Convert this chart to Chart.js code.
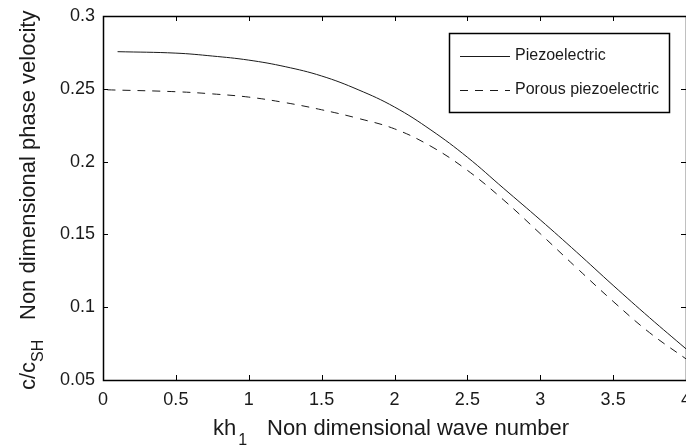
<!DOCTYPE html>
<html>
<head>
<meta charset="utf-8">
<style>
  html, body { margin: 0; padding: 0; background: #fff; }
  #wrap { width: 686px; height: 448px; }
</style>
<script src="https://cdn.jsdelivr.net/npm/chart.js@4.4.1/dist/chart.umd.min.js"></script>
</head>
<body>
<div id="wrap"><canvas id="chart" width="686" height="448"></canvas></div>
<script>
// data
const seriesNames = ['Piezoelectric', 'Porous piezoelectric'];
const piezoX = [0.1, 0.5, 0.75, 1.0, 1.25, 1.5, 1.75, 2.0, 2.25, 2.5, 2.75, 3.0, 3.25, 3.5, 3.75, 4.0];
const piezoY = [0.2755, 0.2745, 0.2725, 0.2697, 0.2652, 0.2588, 0.2494, 0.2375, 0.2217, 0.2030, 0.1815, 0.1600, 0.1378, 0.1150, 0.0928, 0.0714];
const porousX = [0.03, 0.5, 0.75, 1.0, 1.25, 1.5, 1.75, 2.0, 2.25, 2.5, 2.75, 3.0, 3.25, 3.5, 3.75, 4.0];
const porousY = [0.2493, 0.2480, 0.2465, 0.2443, 0.2405, 0.2356, 0.2297, 0.2225, 0.2105, 0.1940, 0.1735, 0.1505, 0.1270, 0.1040, 0.0825, 0.0645];
const xTicks = [0, 0.5, 1, 1.5, 2, 2.5, 3, 3.5, 4];
const yTicks = [0.05, 0.1, 0.15, 0.2, 0.25, 0.3];

const FONT = '"Liberation Sans", Arial, Helvetica, sans-serif';
const INK = '#1a1a1a';

const toPoints = (xs, ys) => xs.map((x, i) => ({ x: x, y: ys[i] }));

// frame + inward ticks on all four sides
const framePlugin = {
    id: 'frame',
    afterDatasetsDraw(chart) {
        const { ctx, chartArea: a, scales } = chart;
        const len = 5;
        ctx.save();
        ctx.strokeStyle = '#000';
        ctx.lineWidth = 1;
        ctx.beginPath();
        scales.x.ticks.forEach(t => {
            const px = Math.round(scales.x.getPixelForValue(t.value)) + 0.5;
            ctx.moveTo(px, a.bottom); ctx.lineTo(px, a.bottom - len);
            ctx.moveTo(px, a.top); ctx.lineTo(px, a.top + len);
        });
        scales.y.ticks.forEach(t => {
            const py = Math.round(scales.y.getPixelForValue(t.value)) + 0.5;
            ctx.moveTo(a.left, py); ctx.lineTo(a.left + len, py);
            ctx.moveTo(a.right, py); ctx.lineTo(a.right - len, py);
        });
        ctx.stroke();
        ctx.lineWidth = 1.5;
        ctx.strokeRect(a.left + 0.5, a.top + 0.5, a.right - a.left, a.bottom - a.top);
        ctx.restore();
    }
};

// boxed legend in the upper right corner of the plot
const boxLegend = {
    id: 'boxLegend',
    afterDraw(chart) {
        const { ctx, chartArea: a } = chart;
        const w = 220, h = 79;
        const x0 = a.right - 17 - w, y0 = a.top + 17;
        ctx.save();
        ctx.fillStyle = '#fff';
        ctx.fillRect(x0, y0, w, h);
        ctx.strokeStyle = '#000';
        ctx.lineWidth = 1.5;
        ctx.strokeRect(x0 + 0.5, y0 + 0.5, w, h);
        ctx.font = '16px ' + FONT;
        ctx.textBaseline = 'middle';
        chart.data.datasets.forEach((ds, i) => {
            const y = y0 + 23 + i * 34;
            ctx.strokeStyle = ds.borderColor;
            ctx.lineWidth = 1;
            ctx.setLineDash(ds.borderDash || []);
            ctx.beginPath();
            ctx.moveTo(x0 + 11, y + 0.5);
            ctx.lineTo(x0 + 61, y + 0.5);
            ctx.stroke();
            ctx.setLineDash([]);
            ctx.fillStyle = INK;
            ctx.fillText(ds.label, x0 + 66, y);
        });
        ctx.restore();
    }
};

// axis titles with subscripts
const titles = {
    id: 'titles',
    afterDraw(chart) {
        const { ctx } = chart;
        ctx.save();
        ctx.fillStyle = INK;
        ctx.textBaseline = 'alphabetic';

        // x title
        ctx.font = '22px ' + FONT;
        ctx.fillText('kh', 213, 435);
        const wk = ctx.measureText('kh').width;
        ctx.font = '16px ' + FONT;
        ctx.fillText('1', 213 + wk + 2, 445);
        ctx.font = '22px ' + FONT;
        ctx.fillText('Non dimensional wave number', 267, 435);

        // y title, rotated
        ctx.translate(35, 390);
        ctx.rotate(-Math.PI / 2);
        ctx.font = '22px ' + FONT;
        ctx.fillText('c/c', 0, 0);
        const wc = ctx.measureText('c/c').width;
        ctx.font = '16px ' + FONT;
        ctx.fillText('SH', wc, 8);
        ctx.font = '22px ' + FONT;
        ctx.fillText('Non dimensional phase velocity', 70, 0);
        ctx.restore();
    }
};

new Chart(document.getElementById('chart'), {
    type: 'line',
    data: {
        datasets: [{
            label: seriesNames[0],
            data: toPoints(piezoX, piezoY),
            borderColor: INK,
            borderWidth: 1,
            pointRadius: 0,
            tension: 0.4,
        }, {
            label: seriesNames[1],
            data: toPoints(porousX, porousY),
            borderColor: INK,
            borderWidth: 1,
            borderDash: [8, 7],
            pointRadius: 0,
            tension: 0.4,
        }]
    },
    options: {
        responsive: false,
        animation: false,
        layout: { padding: { left: 0, right: 0, top: 16, bottom: 0 } },
        plugins: { legend: { display: false }, tooltip: { enabled: false } },
        scales: {
            x: {
                type: 'linear',
                min: 0, max: 4,
                afterBuildTicks: s => { s.ticks = xTicks.map(v => ({ value: v })); },
                afterFit: s => { s.height = 68; s.paddingLeft = 0; s.paddingRight = 0; },
                grid: { display: false, drawTicks: false },
                border: { display: false },
                ticks: {
                    color: INK,
                    font: { family: FONT, size: 18 },
                    padding: 9,
                    maxRotation: 0,
                    autoSkip: false,
                    callback: v => String(v),
                },
            },
            y: {
                type: 'linear',
                min: 0.05, max: 0.3,
                afterBuildTicks: s => { s.ticks = yTicks.map(v => ({ value: v })); },
                afterFit: s => { s.width = 103; s.paddingTop = 0; s.paddingBottom = 0; },
                grid: { display: false, drawTicks: false },
                border: { display: false },
                ticks: {
                    color: INK,
                    font: { family: FONT, size: 18 },
                    padding: 8,
                    autoSkip: false,
                    callback: v => String(+v.toFixed(2)),
                },
            },
        },
    },
    plugins: [framePlugin, boxLegend, titles],
});
</script>
</body>
</html>
